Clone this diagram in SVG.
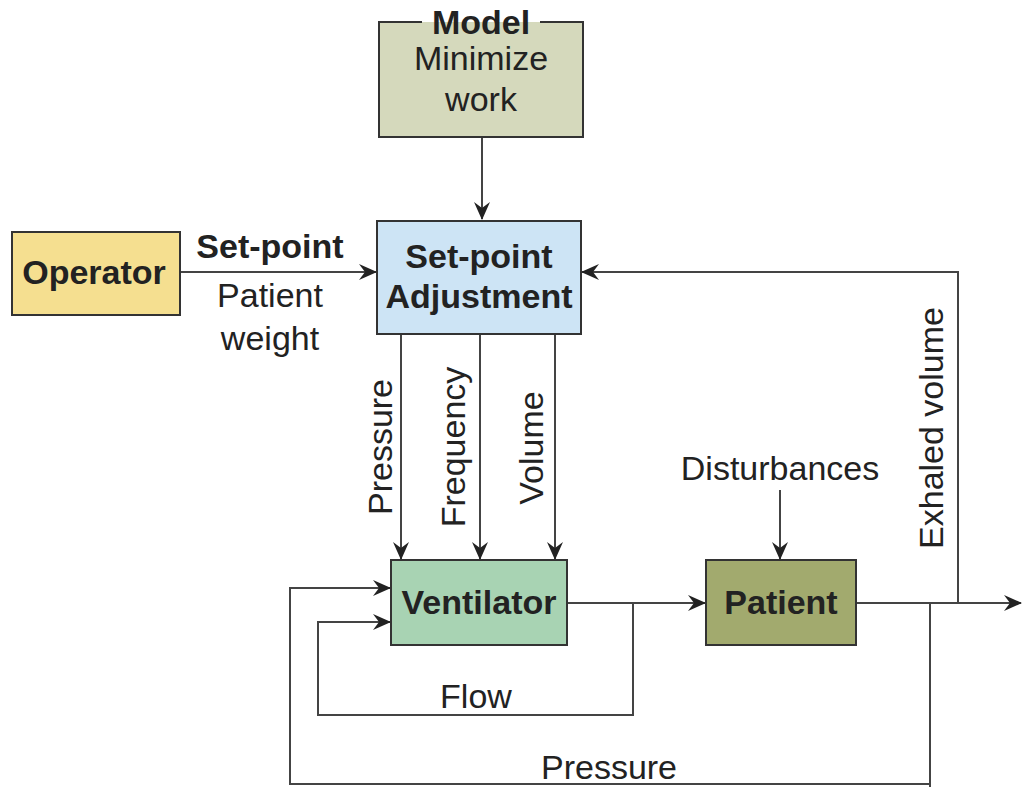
<svg xmlns="http://www.w3.org/2000/svg" width="1022" height="787" viewBox="0 0 1022 787">
<style>
.box{stroke:#333;stroke-width:2}
.t{font-family:"Liberation Sans",Arial,sans-serif;fill:#222;text-anchor:middle}
.b{font-weight:bold;font-size:34px}
.r{font-size:34px}
.ln{fill:none;stroke:#444;stroke-width:2}
</style>
<defs>
<marker id="ah" viewBox="0 0 18 16" refX="17" refY="8" markerWidth="18" markerHeight="16" markerUnits="userSpaceOnUse" orient="auto">
<path d="M0,0 L18,8 L0,16 L6,8 Z" fill="#222"/>
</marker>
</defs>
<rect width="1022" height="787" fill="#fff"/>
<g id="connectors">
<path class="ln" d="M482,137 V219" marker-end="url(#ah)"/>
<path class="ln" d="M180,272 H376" marker-end="url(#ah)"/>
<path class="ln" d="M958,603 V272 H582" marker-end="url(#ah)"/>
<path class="ln" d="M401,334 V559" marker-end="url(#ah)"/>
<path class="ln" d="M480,334 V559" marker-end="url(#ah)"/>
<path class="ln" d="M555,334 V559" marker-end="url(#ah)"/>
<path class="ln" d="M780,490 V559" marker-end="url(#ah)"/>
<path class="ln" d="M567,603 H705" marker-end="url(#ah)"/>
<path class="ln" d="M633,603 V715 H318 V622 H390" marker-end="url(#ah)"/>
<path class="ln" d="M856,603 H1021" marker-end="url(#ah)"/>
<path class="ln" d="M930,603 V787"/>
<path class="ln" d="M930,784 H290 V588 H390" marker-end="url(#ah)"/>
<text class="t b" x="270" y="258">Set-point</text>
<text class="t r" x="270" y="307">Patient</text>
<text class="t r" x="270" y="350">weight</text>
<text class="t r" transform="translate(392,447) rotate(-90)">Pressure</text>
<text class="t r" transform="translate(465,447) rotate(-90)">Frequency</text>
<text class="t r" transform="translate(543,448) rotate(-90)">Volume</text>
<text class="t r" transform="translate(943,428) rotate(-90)">Exhaled volume</text>
<text class="t r" x="780" y="480">Disturbances</text>
<text class="t r" x="476" y="708">Flow</text>
<text class="t r" x="609" y="779">Pressure</text>
</g>
<g id="model">
<rect x="379" y="22" width="204" height="115" fill="#d5d9bc" stroke="none"/>
<path class="ln" d="M422,22 H379 V137 H583 V22 H540" style="stroke:#333"/>
<text class="t b" x="481" y="34">Model</text>
<text class="t r" x="481" y="70">Minimize</text>
<text class="t r" x="481" y="111">work</text>
</g>
<g id="setpoint">
<rect class="box" x="377" y="221" width="204" height="113" fill="#cde4f5"/>
<text class="t b" x="479" y="268">Set-point</text>
<text class="t b" x="479" y="308">Adjustment</text>
</g>
<g id="operator">
<rect class="box" x="12" y="232" width="168" height="83" fill="#f5df90"/>
<text class="t b" x="94" y="284">Operator</text>
</g>
<g id="ventilator">
<rect class="box" x="391" y="560" width="176" height="85" fill="#a8d3b3"/>
<text class="t b" x="479" y="614">Ventilator</text>
</g>
<g id="patient">
<rect class="box" x="706" y="560" width="150" height="85" fill="#a2aa6e"/>
<text class="t b" x="781" y="614">Patient</text>
</g>
</svg>
